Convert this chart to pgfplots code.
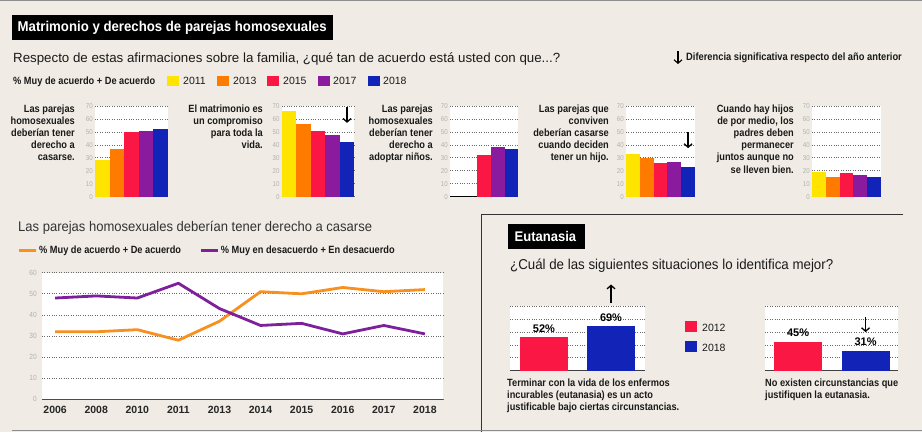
\documentclass[border=0pt]{standalone}
\usepackage{pgfplots}
\pgfplotsset{compat=1.18}
\usetikzlibrary{arrows.meta}
\usepackage{fontspec}
\setmainfont{Liberation Sans}
\newfontfamily\lab[FakeStretch=0.88]{Liberation Sans}
\newfontfamily\sn[FakeStretch=0.93]{Liberation Sans}
\definecolor{bg}{HTML}{F0ECE5}
\definecolor{cY}{HTML}{FFE400}
\definecolor{cO}{HTML}{FF7B00}
\definecolor{cR}{HTML}{FA1744}
\definecolor{cP}{HTML}{8A1A9E}
\definecolor{cB}{HTML}{1224B8}
\definecolor{lO}{HTML}{F7901E}
\definecolor{lP}{HTML}{7E1F9C}
\definecolor{tickc}{HTML}{B0B0B0}
\definecolor{grd}{HTML}{6A6A6A}
\definecolor{txt}{HTML}{1A1A1A}
\tikzset{sigarrow/.style={-{Straight Barb[length=3.5pt,width=8pt]}, line width=1.3pt, black}}
\pgfplotsset{
  panel/.style={scale only axis, height=90.7pt, ymin=0, ymax=70, xmin=-0.5, xmax=4.5,
    ybar, bar width=1, bar shift=0pt, clip=false,
    axis background/.style={fill=white},
    axis x line*=bottom, axis y line*=left,
    x axis line style={line width=1.4pt, black},
    y axis line style={draw=none},
    xtick=\empty, ytick={0,10,...,70},
    major tick length=0pt,
    ymajorgrids, grid style={dotted, grd, line width=0.7pt},
    yticklabel style={font=\lab\fontsize{7}{7}\selectfont, text=tickc, inner sep=2pt},
    /pgf/number format/assume math mode=true,
  },
  eut/.style={scale only axis, height=64.3pt, ymin=0, ymax=100,
    ybar, bar width=48pt, bar shift=0pt, clip=false,
    axis background/.style={fill=white},
    axis x line*=bottom, axis y line*=left,
    x axis line style={line width=1.5pt, black!75},
    y axis line style={draw=none},
    xtick=\empty, ytick={20,40,60,80,100}, yticklabels={,,,,,},
    major tick length=0pt,
    ymajorgrids, grid style={dotted, grd, line width=0.7pt},
    nodes near coords={\pgfmathprintnumber{\pgfplotspointmeta}\%},
    nodes near coords style={font=\bfseries\fontsize{11}{11}\selectfont, text=black, anchor=south, inner sep=1.5pt, yshift=3pt, /pgf/number format/assume math mode=true},
  },
}
\begin{document}
\begin{tikzpicture}
\path[use as bounding box] (0pt,0pt) rectangle (922pt,-432pt);
\begin{scope}[x=1pt,y=-1pt]
\fill[bg] (0,0) rectangle (922,432);
\draw[black!45, line width=1.2pt] (0,0.6) -- (922,0.6);
% title
\fill[black] (12,15) rectangle (333,40);
\node[anchor=west, inner sep=0, text=white, font=\sn\bfseries\fontsize{14.2}{16}\selectfont] at (17.5,27.5) {Matrimonio y derechos de parejas homosexuales};
\node[anchor=base west, inner sep=0, text=txt, font=\fontsize{13.3}{15}\selectfont] at (13,62) {Respecto de estas afirmaciones sobre la familia, ¿qué tan de acuerdo está usted con que...?};
% right note
\draw[sigarrow, line width=1.1pt] (678,51) -- (678,64);
\node[anchor=base west, inner sep=0, text=txt, font=\lab\bfseries\fontsize{10.6}{12}\selectfont] at (686,60) {Diferencia significativa respecto del año anterior};
% top legend
\node[anchor=base west, inner sep=0, text=txt, font=\lab\bfseries\fontsize{10.5}{12}\selectfont] at (13,84.5) {\% Muy de acuerdo + De acuerdo};
\fill[cY] (167,75.5) rectangle (179,86);
\fill[cO] (217,75.5) rectangle (229,86);
\fill[cR] (267,75.5) rectangle (279,86);
\fill[cP] (318,75.5) rectangle (330,86);
\fill[cB] (368,75.5) rectangle (380,86);
\foreach \xx/\yy in {183/2011,233/2013,283/2015,333/2017,383/2018}
  \node[anchor=base west, inner sep=0, text=txt, font=\fontsize{10.5}{12}\selectfont] at (\xx,84.5) {\yy};
% panel labels
\tikzset{plab/.style={anchor=north east, align=right, inner sep=0, text=txt, font=\lab\bfseries\fontsize{10.5}{12.2}\selectfont}}
\node[plab] at (75,104.3) {Las parejas\\homosexuales\\deberían tener\\derecho a\\casarse.};
\node[plab] at (263,104.3) {El matrimonio es\\un compromiso\\para toda la\\vida.};
\node[plab] at (433,104.3) {Las parejas\\homosexuales\\deberían tener\\derecho a\\adoptar niños.};
\node[plab] at (609,104.3) {Las parejas que\\conviven\\deberían casarse\\cuando deciden\\tener un hijo.};
\node[plab] at (794,104.3) {Cuando hay hijos\\de por medio, los\\padres deben\\permanecer\\juntos aunque no\\se lleven bien.};
% line chart title
\node[anchor=base west, inner sep=0, text=black!80, font=\sn\fontsize{14}{16}\selectfont] at (18,231.7) {Las parejas homosexuales deberían tener derecho a casarse};
% eutanasia box
\draw[black!80, line width=1pt] (903,214) -- (481,214) -- (481,432);
\draw[black!45, line width=1.2pt] (12,430.6) -- (922,430.6);
\fill[black] (508,224) rectangle (585,249);
\node[anchor=west, inner sep=0, text=white, font=\sn\bfseries\fontsize{14}{16}\selectfont] at (514.5,236.5) {Eutanasia};
\node[anchor=base west, inner sep=0, text=txt, font=\sn\fontsize{14.3}{16}\selectfont] at (510,269) {¿Cuál de las siguientes situaciones lo identifica mejor?};
\fill[cR] (685,321) rectangle (697,332);
\fill[cB] (685,341) rectangle (697,352);
\node[anchor=base west, inner sep=0, text=txt, font=\fontsize{10.5}{12}\selectfont] at (702,331) {2012};
\node[anchor=base west, inner sep=0, text=txt, font=\fontsize{10.5}{12}\selectfont] at (702,351) {2018};
\tikzset{elab/.style={anchor=base west, align=left, inner sep=0, text=txt, font=\lab\bfseries\fontsize{10.5}{11.7}\selectfont}}
\node[elab] at (507,386.7) {Terminar con la vida de los enfermos};
\node[elab] at (507,398.4) {incurables (eutanasia) es un acto};
\node[elab] at (507,410.1) {justificable bajo ciertas circunstancias.};
\node[elab] at (765,386.7) {No existen circunstancias que};
\node[elab] at (765,398.4) {justifiquen la eutanasia.};
\end{scope}

% ---- small bar panels
\begin{axis}[panel, width=73pt, at={(95pt,-196.7pt)}, anchor=south west]
\addplot[fill=cY, draw=none] coordinates {(0,28)};
\addplot[fill=cO, draw=none] coordinates {(1,37)};
\addplot[fill=cR, draw=none] coordinates {(2,50)};
\addplot[fill=cP, draw=none] coordinates {(3,51)};
\addplot[fill=cB, draw=none] coordinates {(4,52)};
\end{axis}
\begin{axis}[panel, width=72.5pt, at={(281.8pt,-196.7pt)}, anchor=south west]
\addplot[fill=cY, draw=none] coordinates {(0,66)};
\addplot[fill=cO, draw=none] coordinates {(1,56)};
\addplot[fill=cR, draw=none] coordinates {(2,51)};
\addplot[fill=cP, draw=none] coordinates {(3,48)};
\addplot[fill=cB, draw=none] coordinates {(4,42)};
\draw[sigarrow] (axis cs:4,69) -- (axis cs:4,57);
\end{axis}
\begin{axis}[panel, width=68.3pt, at={(450pt,-196.7pt)}, anchor=south west]
\addplot[fill=cR, draw=none] coordinates {(2,32)};
\addplot[fill=cP, draw=none] coordinates {(3,38)};
\addplot[fill=cB, draw=none] coordinates {(4,37)};
\end{axis}
\begin{axis}[panel, width=69pt, at={(626pt,-196.7pt)}, anchor=south west]
\addplot[fill=cY, draw=none] coordinates {(0,33)};
\addplot[fill=cO, draw=none] coordinates {(1,30)};
\addplot[fill=cR, draw=none] coordinates {(2,26)};
\addplot[fill=cP, draw=none] coordinates {(3,27)};
\addplot[fill=cB, draw=none] coordinates {(4,23)};
\draw[sigarrow] (axis cs:4,50) -- (axis cs:4,37.5);
\end{axis}
\begin{axis}[panel, width=69pt, at={(812pt,-196.7pt)}, anchor=south west]
\addplot[fill=cY, draw=none] coordinates {(0,19)};
\addplot[fill=cO, draw=none] coordinates {(1,15)};
\addplot[fill=cR, draw=none] coordinates {(2,18)};
\addplot[fill=cP, draw=none] coordinates {(3,17)};
\addplot[fill=cB, draw=none] coordinates {(4,15)};
\end{axis}

% ---- line chart
\begin{axis}[at={(42pt,-399.3pt)}, anchor=south west, scale only axis, width=401pt, height=126.6pt,
  xmin=-0.32, xmax=9.44, ymin=0, ymax=60,
  axis background/.style={fill=white},
  axis x line*=bottom, axis y line*=left,
  x axis line style={line width=1.2pt, black!70},
  y axis line style={draw=none},
  xtick={0,...,9}, xticklabels={2006,2008,2010,2011,2013,2014,2015,2016,2017,2018},
  ytick={0,10,...,60}, major tick length=0pt,
  ymajorgrids, grid style={dotted, grd, line width=0.7pt},
  xticklabel style={font=\bfseries\fontsize{10.5}{11}\selectfont, text=black!85, yshift=-3.5pt},
  yticklabel style={font=\lab\fontsize{7.5}{8}\selectfont, text=tickc, inner sep=2pt, xshift=-3pt},
  /pgf/number format/assume math mode=true,
  legend columns=2,
  legend style={at={(-0.062,1.174)}, anchor=west, draw=none, fill=none, inner sep=0pt,
    font=\lab\bfseries\fontsize{10.5}{12}\selectfont, text=txt,
    /tikz/every even column/.append style={column sep=16pt}},
  legend image code/.code={\draw[#1, line width=2.8pt] (0pt,0pt) -- (17pt,0pt);},
]
\addplot[lO, line width=2.8pt, line join=round] coordinates {(0,32)(1,32)(2,33)(3,28)(4,37)(5,51)(6,50)(7,53)(8,51)(9,52)};
\addlegendentry{\% Muy de acuerdo + De acuerdo}
\addplot[lP, line width=2.8pt, line join=round] coordinates {(0,48)(1,49)(2,48)(3,55)(4,43)(5,35)(6,36)(7,31)(8,35)(9,31)};
\addlegendentry{\% Muy en desacuerdo + En desacuerdo}
\end{axis}

% ---- eutanasia
\begin{axis}[eut, width=135pt, at={(510pt,-370.7pt)}, anchor=south west, xmin=-0.507, xmax=1.507]
\addplot[fill=cR, draw=none] coordinates {(0,52)};
\addplot[fill=cB, draw=none] coordinates {(1,69)};
\draw[sigarrow] (axis cs:1,105) -- (axis cs:1,134);
\end{axis}
\begin{axis}[eut, width=133pt, at={(765pt,-370.7pt)}, anchor=south west, xmin=-0.49, xmax=1.48]
\addplot[fill=cR, draw=none] coordinates {(0,45)};
\addplot[fill=cB, draw=none] coordinates {(1,31)};
\draw[sigarrow] (axis cs:1,84) -- (axis cs:1,60);
\end{axis}
\end{tikzpicture}
\end{document}
